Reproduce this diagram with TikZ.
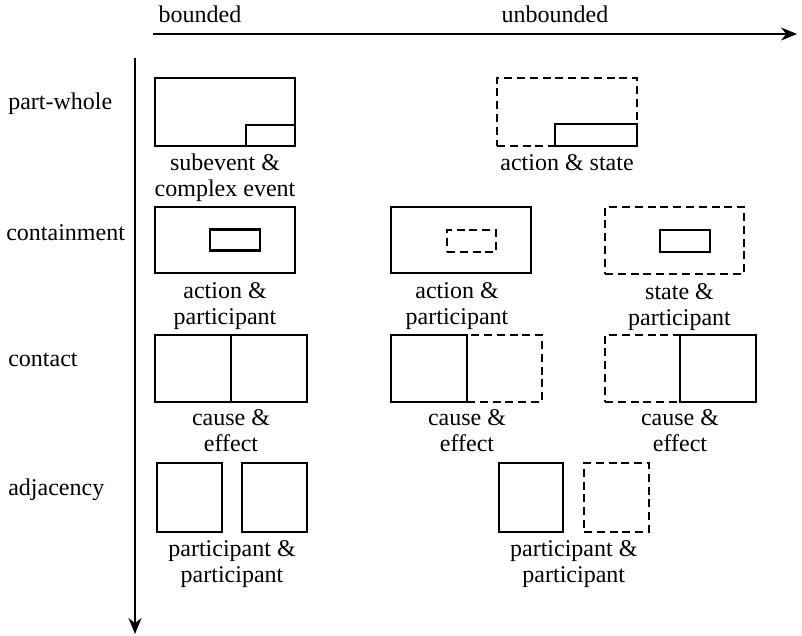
\documentclass[tikz,border=0pt]{standalone}
\usepackage{fontspec}
\setmainfont{Liberation Serif}
\usetikzlibrary{arrows.meta,positioning,calc}

\begin{document}
\begin{tikzpicture}[x=0.5pt, y=-0.5pt, >={Stealth[length=8pt,width=6.5pt]}, line width=1.3pt, every node/.style={font=\fontsize{12}{13}\selectfont},
    solidbox/.style={draw, inner sep=0pt, outer sep=0pt},
    dashbox/.style={draw, dash pattern=on 4pt off 2.4pt, inner sep=0pt, outer sep=0pt},
    caption/.style={align=center, inner sep=0pt}]
    \useasboundingbox (0,0) rectangle (802,636);

    % axes
    \coordinate (hstart) at (153,34);
    \coordinate (hend) at (797,34);
    \coordinate (vstart) at (135,58);
    \coordinate (vend) at (135,634);
    \draw[->, line width=1pt] (hstart) -- (hend);
    \draw[->, line width=1pt] (vstart) -- (vend);

    \node (bounded) at (200,14) {bounded};
    \node (unbounded) at (555,14) {unbounded};

    \node[anchor=west, inner sep=0pt] (partwhole) at (7,104) {part-whole};
    \node[anchor=west, inner sep=0pt] (containment) at (5,233) {containment};
    \node[anchor=west, inner sep=0pt] (contact) at (7,360) {contact};
    \node[anchor=west, inner sep=0pt] (adjacency) at (7,490) {adjacency};

    % part-whole
    \node[solidbox, minimum width=70pt, minimum height=34pt] (pwA) at (225,112) {};
    \node[solidbox, minimum width=24.5pt, minimum height=10.5pt, anchor=south east] (pwAsub) at (pwA.south east) {};
    \node[dashbox, minimum width=70pt, minimum height=34pt] (pwB) at (567,112) {};
    \node[solidbox, minimum width=41pt, minimum height=11pt, anchor=south east] (pwBsub) at (pwB.south east) {};
    \node[caption, below=3.5pt of pwA] (pwAcap) {subevent \&\\complex event};
    \node[caption, below=3.5pt of pwB] (pwBcap) {action \& state};

    % containment
    \node[solidbox, minimum width=70pt, minimum height=33pt] (coA) at (225,240) {};
    \node[solidbox, minimum width=25pt, minimum height=10.5pt] (coAin) at (235,240) {};
    \node[solidbox, minimum width=70pt, minimum height=33pt] (coB) at (461,240) {};
    \node[dashbox, minimum width=24.5pt, minimum height=11pt] (coBin) at (471.5,241) {};
    \node[dashbox, minimum width=69.5pt, minimum height=33.5pt] (coC) at (674.5,240.5) {};
    \node[solidbox, minimum width=25pt, minimum height=11pt] (coCin) at (685,241) {};
    \node[caption, below=4pt of coA] (coAcap) {action \&\\participant};
    \node[caption, below=4pt of coB, xshift=-2pt] (coBcap) {action \&\\participant};
    \node[caption, below=4pt of coC, xshift=2.5pt] (coCcap) {state \&\\participant};

    % contact
    \node[solidbox, minimum width=38pt, minimum height=33.5pt] (ctA1) at (193,368.5) {};
    \node[solidbox, minimum width=38pt, minimum height=33.5pt, anchor=west] (ctA2) at (ctA1.east) {};
    \node[dashbox, minimum width=37.5pt, minimum height=33.5pt] (ctB2) at (504.5,368.5) {};
    \node[solidbox, minimum width=38pt, minimum height=33.5pt, anchor=east] (ctB1) at (ctB2.west) {};
    \node[dashbox, minimum width=37.5pt, minimum height=33.5pt] (ctC1) at (642.5,368.5) {};
    \node[solidbox, minimum width=38pt, minimum height=33.5pt, anchor=west] (ctC2) at (ctC1.east) {};
    \node[caption, below=3pt of ctA1.south east] (ctAcap) {cause \&\\effect};
    \node[caption, below=3pt of ctB1.south east] (ctBcap) {cause \&\\effect};
    \node[caption, below=3pt of ctC1.south east] (ctCcap) {cause \&\\effect};

    % adjacency
    \node[solidbox, minimum width=32.5pt, minimum height=34.5pt] (adA1) at (189.5,497.5) {};
    \node[solidbox, minimum width=32.5pt, minimum height=34.5pt] (adA2) at (274.5,497.5) {};
    \node[solidbox, minimum width=32pt, minimum height=34.5pt] (adB1) at (531,497.5) {};
    \node[dashbox, minimum width=32.5pt, minimum height=34.5pt] (adB2) at (616.5,497.5) {};
    \coordinate (adAmid) at ($(adA1.south)!0.5!(adA2.south)$);
    \coordinate (adBmid) at ($(adB1.south)!0.5!(adB2.south)$);
    \node[caption, below=3.5pt of adAmid] (adAcap) {participant \&\\participant};
    \node[caption, below=3.5pt of adBmid] (adBcap) {participant \&\\participant};
\end{tikzpicture}
\end{document}
